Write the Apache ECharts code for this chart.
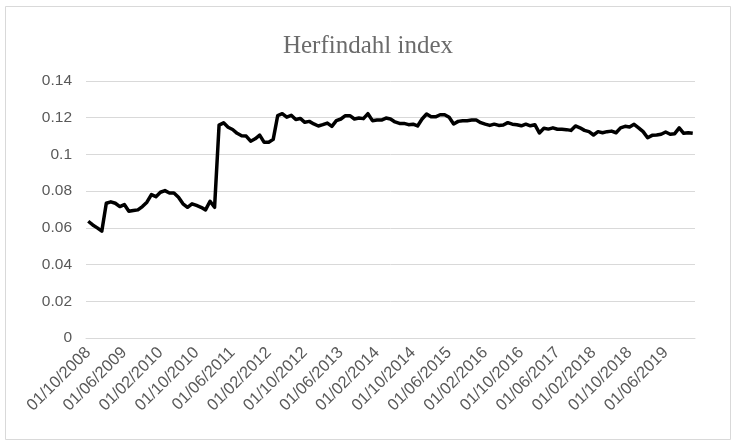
<!DOCTYPE html>
<html>
<head>
<meta charset="utf-8">
<script src="https://cdn.jsdelivr.net/npm/echarts@6/dist/echarts.min.js"></script>
<style>
  html, body { margin: 0; padding: 0; background: #fff; }
  #chart { width: 736px; height: 444px; }
</style>
</head>
<body>
<div id="chart"></div>
<script>
/*#############  数据  ###############*/
// monthly dates, first of month, Oct 2008 .. Dec 2019
var startYear = 2008, startMonth = 10, monthCount = 135;
var months = [];
for (var k = 0; k < monthCount; k++) {
  var m = (startMonth - 1 + k) % 12 + 1;
  var y = startYear + Math.floor((startMonth - 1 + k) / 12);
  months.push("01/" + (m < 10 ? "0" + m : m) + "/" + y);
}

// Herfindahl index
var herfindahl = [
  0.0636, 0.0616, 0.0600, 0.0582, 0.0734, 0.0742, 0.0734, 0.0716, 0.0727, 0.0690,
  0.0694, 0.0698, 0.0716, 0.0740, 0.0781, 0.0770, 0.0794, 0.0803, 0.0790, 0.0790,
  0.0767, 0.0731, 0.0712, 0.0731, 0.0722, 0.0712, 0.0698, 0.0745, 0.0712, 0.1160,
  0.1172, 0.1148, 0.1136, 0.1115, 0.1102, 0.1100, 0.1072, 0.1085, 0.1105, 0.1066,
  0.1066, 0.1082, 0.1212, 0.1222, 0.1203, 0.1213, 0.1190, 0.1196, 0.1175, 0.1180,
  0.1166, 0.1155, 0.1162, 0.1171, 0.1153, 0.1184, 0.1193, 0.1211, 0.1211, 0.1193,
  0.1198, 0.1195, 0.1222, 0.1184, 0.1187, 0.1187, 0.1198, 0.1193, 0.1177, 0.1169,
  0.1169, 0.1162, 0.1165, 0.1155, 0.1193, 0.1220, 0.1205, 0.1205, 0.1216, 0.1216,
  0.1202, 0.1166, 0.1180, 0.1184, 0.1184, 0.1187, 0.1187, 0.1173, 0.1165, 0.1158,
  0.1165, 0.1158, 0.1160, 0.1173, 0.1165, 0.1162, 0.1156, 0.1165, 0.1156, 0.1162,
  0.1117, 0.1143, 0.1138, 0.1145, 0.1137, 0.1137, 0.1135, 0.1131, 0.1155, 0.1145,
  0.1131, 0.1124, 0.1106, 0.1124, 0.1118, 0.1124, 0.1127, 0.1118, 0.1145, 0.1153,
  0.1149, 0.1164, 0.1145, 0.1124, 0.1091, 0.1104, 0.1106, 0.1110, 0.1122, 0.1110,
  0.1113, 0.1145, 0.1115, 0.1118, 0.1115
];

// y axis
var yMin = 0, yMax = 0.14, yStep = 0.02;

/*#############  图表  ###############*/
var myChart = echarts.init(document.getElementById("chart"));
var option = {
  backgroundColor: "#fff",
  animation: false,
  title: {
    text: "Herfindahl index",
    left: "center",
    top: 29,
    textStyle: {
      fontFamily: "Liberation Serif",
      fontSize: 25,
      fontWeight: "normal",
      color: "#6b6b6b"
    }
  },
  graphic: [
    {
      type: "rect",
      shape: { x: 5.5, y: 6.5, width: 725, height: 433 },
      style: { fill: "none", stroke: "#d9d9d9", lineWidth: 1 },
      silent: true
    }
  ],
  grid: { left: 86, right: 41, top: 81, bottom: 106 },
  xAxis: {
    type: "category",
    data: months,
    boundaryGap: true,
    axisTick: { show: false },
    axisLine: { lineStyle: { color: "#d9d9d9" } },
    axisLabel: {
      interval: 7,
      rotate: 45,
      margin: 12,
      verticalAlign: "middle",
      lineHeight: 17,
      padding: [5, 0, 0, 0],
      fontFamily: "Liberation Sans",
      fontSize: 16.5,
      color: "#595959"
    }
  },
  yAxis: {
    type: "value",
    min: yMin,
    max: yMax,
    interval: yStep,
    axisLine: { show: false },
    axisTick: { show: false },
    splitLine: { lineStyle: { color: "#d9d9d9", width: 1 } },
    axisLabel: {
      margin: 14,
      fontFamily: "Liberation Sans",
      fontSize: 15.5,
      color: "#595959",
      formatter: function (v) { return String(+v.toFixed(2)); }
    }
  },
  series: [
    {
      name: "Herfindahl index",
      type: "line",
      data: herfindahl,
      showSymbol: false,
      lineStyle: { color: "#000", width: 3.5, join: "round" }
    }
  ]
};
myChart.setOption(option, true);
</script>
</body>
</html>
